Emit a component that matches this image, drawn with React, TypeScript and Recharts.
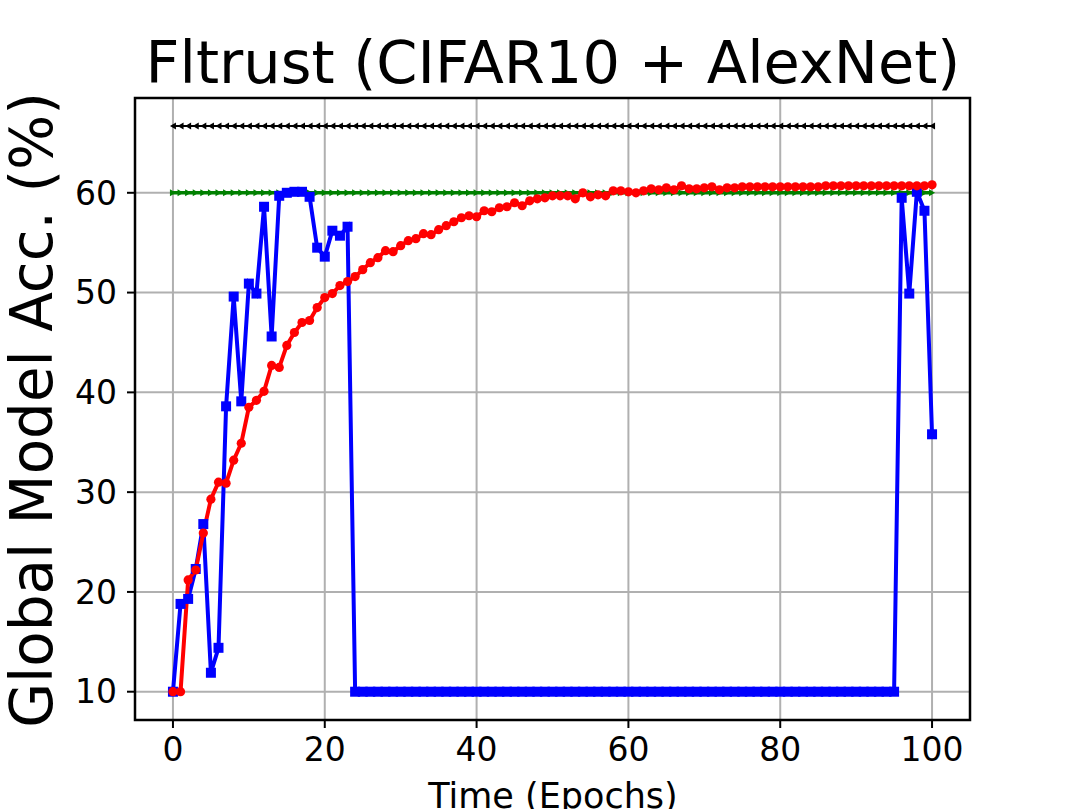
import { CartesianGrid, Line, LineChart, ReferenceArea, XAxis, YAxis } from "recharts";

const epochs = [
  0, 1, 2, 3, 4, 5, 6, 7, 8, 9, 10, 11, 12, 13, 14, 15, 16, 17, 18, 19, 20, 21, 22, 23, 24, 25, 26, 27, 28, 29, 30, 31, 32, 33,
  34, 35, 36, 37, 38, 39, 40, 41, 42, 43, 44, 45, 46, 47, 48, 49, 50, 51, 52, 53, 54, 55, 56, 57, 58, 59, 60, 61, 62, 63, 64, 65, 66,
  67, 68, 69, 70, 71, 72, 73, 74, 75, 76, 77, 78, 79, 80, 81, 82, 83, 84, 85, 86, 87, 88, 89, 90, 91, 92, 93, 94, 95, 96, 97, 98, 99,
  100,
];

// attacked run (blue squares)
const attackAcc = [
  10, 18.8, 19.3, 22.3, 26.8, 11.9, 14.4, 38.6, 49.6, 39.1, 50.9, 49.9, 58.6, 45.6, 59.7, 60.0, 60.1, 60.1, 59.6, 54.5, 53.6, 56.2,
  55.7, 56.6,
  10, 10, 10, 10, 10, 10, 10, 10, 10, 10, 10, 10, 10, 10, 10, 10, 10, 10, 10, 10, 10, 10, 10, 10,
  10, 10, 10, 10, 10, 10, 10, 10, 10, 10, 10, 10, 10, 10, 10, 10, 10, 10, 10, 10, 10, 10, 10, 10,
  10, 10, 10, 10, 10, 10, 10, 10, 10, 10, 10, 10, 10, 10, 10, 10, 10, 10, 10, 10, 10, 10, 10, 10,
  59.5, 49.9, 60.1, 58.2, 35.8,
];

// defended run (red circles)
const defenseAcc = [
  10, 10, 21.2, 22.2, 25.9, 29.3, 31.0, 30.9, 33.2, 34.9, 38.5, 39.2, 40.1, 42.7, 42.5, 44.7, 46.0, 47.0, 47.2, 48.5, 49.5, 49.9,
  50.7, 51.1, 51.6, 52.3, 53.0, 53.5, 54.2, 54.1, 54.7, 55.2, 55.4, 55.9, 55.8, 56.3, 56.7, 57.1, 57.5, 57.7, 57.6, 58.2, 58.1,
  58.5, 58.6, 59.0, 58.7, 59.2, 59.4, 59.5, 59.7, 59.7, 59.7, 59.4, 60.0, 59.6, 59.8, 59.7, 60.2, 60.2, 60.1, 60.0, 60.2, 60.4,
  60.3, 60.5, 60.3, 60.7, 60.4, 60.4, 60.5, 60.6, 60.3, 60.5, 60.5, 60.6, 60.6, 60.6, 60.6, 60.6, 60.6, 60.6, 60.6, 60.6, 60.6,
  60.6, 60.7, 60.7, 60.7, 60.7, 60.7, 60.7, 60.7, 60.7, 60.7, 60.7, 60.7, 60.7, 60.7, 60.7, 60.8,
];

// baseline without attack (green)
const cleanAcc = [
  60, 60, 60, 60, 60, 60, 60, 60, 60, 60, 60, 60, 60, 60, 60, 60, 60, 60, 60, 60, 60, 60, 60, 60, 60, 60, 60, 60, 60, 60, 60, 60,
  60, 60, 60, 60, 60, 60, 60, 60, 60, 60, 60, 60, 60, 60, 60, 60, 60, 60, 60, 60, 60, 60, 60, 60, 60, 60, 60, 60, 60, 60, 60, 60,
  60, 60, 60, 60, 60, 60, 60, 60, 60, 60, 60, 60, 60, 60, 60, 60, 60, 60, 60, 60, 60, 60, 60, 60, 60, 60, 60, 60, 60, 60, 60, 60,
  60, 60, 60, 60, 60,
];

// upper reference (black)
const upperAcc = [
  66.7, 66.7, 66.7, 66.7, 66.7, 66.7, 66.7, 66.7, 66.7, 66.7, 66.7, 66.7, 66.7, 66.7, 66.7, 66.7, 66.7, 66.7, 66.7, 66.7, 66.7,
  66.7, 66.7, 66.7, 66.7, 66.7, 66.7, 66.7, 66.7, 66.7, 66.7, 66.7, 66.7, 66.7, 66.7, 66.7, 66.7, 66.7, 66.7, 66.7, 66.7, 66.7,
  66.7, 66.7, 66.7, 66.7, 66.7, 66.7, 66.7, 66.7, 66.7, 66.7, 66.7, 66.7, 66.7, 66.7, 66.7, 66.7, 66.7, 66.7, 66.7, 66.7, 66.7,
  66.7, 66.7, 66.7, 66.7, 66.7, 66.7, 66.7, 66.7, 66.7, 66.7, 66.7, 66.7, 66.7, 66.7, 66.7, 66.7, 66.7, 66.7, 66.7, 66.7, 66.7,
  66.7, 66.7, 66.7, 66.7, 66.7, 66.7, 66.7, 66.7, 66.7, 66.7, 66.7, 66.7, 66.7, 66.7, 66.7, 66.7, 66.7,
];

const xTicks = [0, 20, 40, 60, 80, 100];
const yTicks = [10, 20, 30, 40, 50, 60];

const data = epochs.map((epoch, i) => ({
  epoch,
  attack: attackAcc[i],
  defense: defenseAcc[i],
  clean: cleanAcc[i],
  upper: upperAcc[i],
}));

const FONT = "'DejaVu Sans', sans-serif";
const W = 1079;
const H = 809;

const squareDot = (p: any) => (
  <rect key={`sq-${p.index}`} x={p.cx - 5} y={p.cy - 5} width={10} height={10} fill="#0000ff" />
);
const circleDot = (p: any) => <circle key={`ci-${p.index}`} cx={p.cx} cy={p.cy} r={4.6} fill="#ff0000" />;
const rightTri = (p: any) => (
  <path key={`rt-${p.index}`} d={`M${p.cx - 3},${p.cy - 3.5} L${p.cx + 3},${p.cy} L${p.cx - 3},${p.cy + 3.5} Z`} fill="#008000" />
);
const leftTri = (p: any) => (
  <path key={`lt-${p.index}`} d={`M${p.cx + 3},${p.cy - 3.5} L${p.cx - 3},${p.cy} L${p.cx + 3},${p.cy + 3.5} Z`} fill="#000000" />
);

export default function App() {
  return (
    <div style={{ position: "absolute", left: 0, top: 0, width: W, height: H, background: "#fff", fontFamily: FONT }}>
      <LineChart width={W} height={H} data={data} margin={{ top: 98, right: 109, bottom: 29, left: 55 }}>
        <CartesianGrid stroke="#b0b0b0" strokeWidth={2} />
        <XAxis
          dataKey="epoch"
          type="number"
          domain={[-5, 105]}
          ticks={xTicks}
          height={60}
          axisLine={false}
          tickLine={{ stroke: "#000", strokeWidth: 2 }}
          tickSize={8}
          tickMargin={10}
          tick={{ fill: "#000", fontSize: 33, fontFamily: FONT }}
          allowDataOverflow
        />
        <YAxis
          type="number"
          domain={[7.165, 69.5]}
          ticks={yTicks}
          width={80}
          axisLine={false}
          tickLine={{ stroke: "#000", strokeWidth: 2 }}
          tickSize={8}
          tickMargin={10}
          tick={{ fill: "#000", fontSize: 33, fontFamily: FONT }}
          allowDataOverflow
        />
        <Line dataKey="clean" stroke="#008000" strokeWidth={3.5} dot={rightTri} isAnimationActive={false} />
        <Line dataKey="upper" stroke="#000" strokeWidth={2} dot={leftTri} isAnimationActive={false} />
        <Line dataKey="attack" stroke="#0000ff" strokeWidth={4} dot={squareDot} isAnimationActive={false} />
        <Line dataKey="defense" stroke="#ff0000" strokeWidth={4} dot={circleDot} isAnimationActive={false} />
        <ReferenceArea x1={-5} x2={105} y1={7.165} y2={69.5} fill="none" stroke="#000" strokeWidth={2.5} ifOverflow="visible" />
      </LineChart>
      <svg width={W} height={H} style={{ position: "absolute", left: 0, top: 0, pointerEvents: "none" }}>
        <text x={553} y={83} textAnchor="middle" fontSize={59} fontFamily={FONT} fill="#000">
          Fltrust (CIFAR10 + AlexNet)
        </text>
        <text x={0} y={0} transform="translate(52,410) rotate(-90)" textAnchor="middle" fontSize={58} fontFamily={FONT} fill="#000">
          Global Model Acc. (%)
        </text>
        <text x={553} y={808} textAnchor="middle" fontSize={35} fontFamily={FONT} fill="#000">
          Time (Epochs)
        </text>
      </svg>
    </div>
  );
}
